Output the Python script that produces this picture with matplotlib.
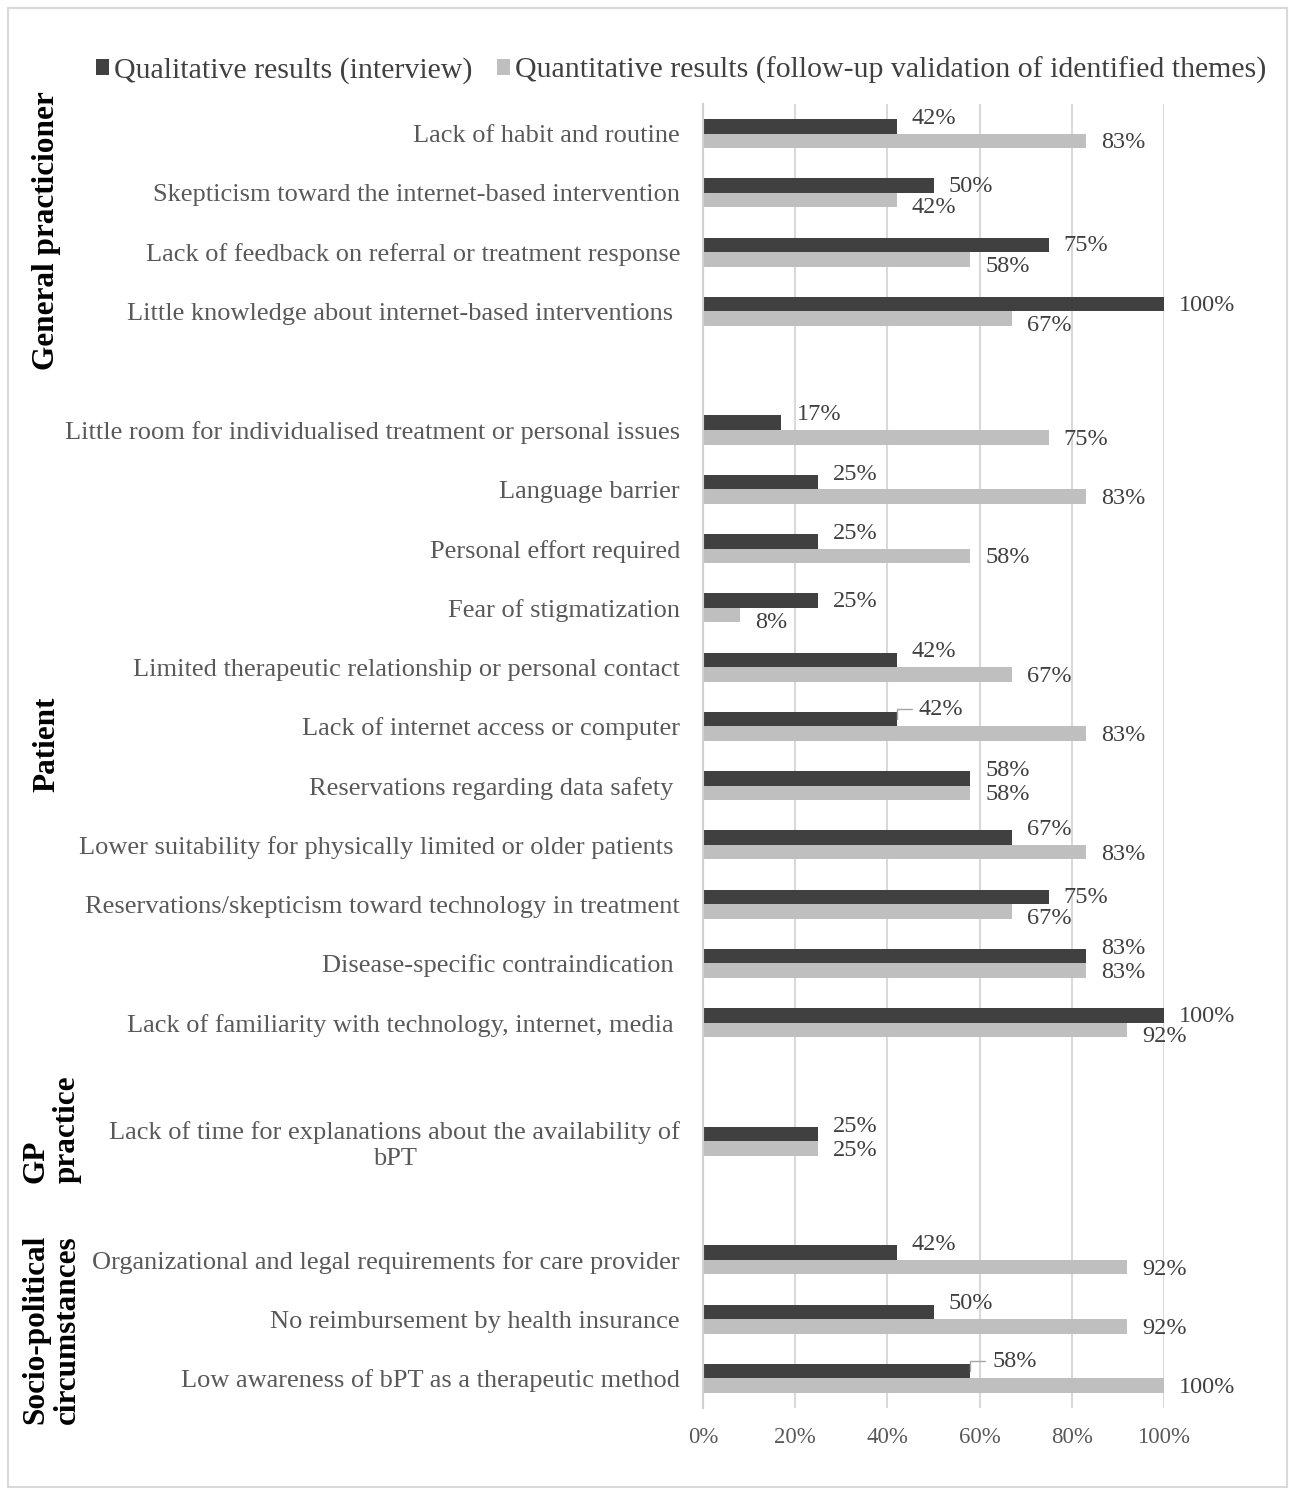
import numpy as np
import matplotlib.pyplot as plt
from matplotlib.patches import Patch, Rectangle
from matplotlib.transforms import blended_transform_factory

plt.rcParams['font.family'] = ['Liberation Serif', 'DejaVu Serif']

# barrier themes per group, values in percent
group_names = ["General practicioner", "Patient", "GP\npractice", "Socio-political\ncircumstances"]

gp_items = ["Lack of habit and routine",
            "Skepticism toward the internet-based intervention",
            "Lack of feedback on referral or treatment response",
            "Little knowledge about internet-based interventions "]
gp_qual = [42, 50, 75, 100]
gp_quant = [83, 42, 58, 67]

patient_items = ["Little room for individualised treatment or personal issues",
                 "Language barrier",
                 "Personal effort required",
                 "Fear of stigmatization",
                 "Limited therapeutic relationship or personal contact",
                 "Lack of internet access or computer",
                 "Reservations regarding data safety ",
                 "Lower suitability for physically limited or older patients ",
                 "Reservations/skepticism toward technology in treatment",
                 "Disease-specific contraindication ",
                 "Lack of familiarity with technology, internet, media "]
patient_qual = [17, 25, 25, 25, 42, 42, 58, 67, 75, 83, 100]
patient_quant = [75, 83, 58, 8, 67, 83, 58, 83, 67, 83, 92]

practice_items = ["Lack of time for explanations about the availability of\nbPT"]
practice_qual = [25]
practice_quant = [25]

socio_items = ["Organizational and legal requirements for care provider",
               "No reimbursement by health insurance",
               "Low awareness of bPT as a therapeutic method"]
socio_qual = [42, 50, 58]
socio_quant = [92, 92, 100]

series_names = ["Qualitative results (interview)",
                "Quantitative results (follow-up validation of identified themes)"]
x_ticks = [0, 20, 40, 60, 80, 100]

# labels that get a leader line (qualitative series)
leader_items = ["Lack of internet access or computer",
                "Low awareness of bPT as a therapeutic method"]

blocks = [(gp_items, gp_qual, gp_quant),
          (patient_items, patient_qual, patient_quant),
          (practice_items, practice_qual, practice_quant),
          (socio_items, socio_qual, socio_quant)]

# one empty slot between groups
pos, labels, qual, quant, group_mid = [], [], [], [], []
slot = 0
for items, q1, q2 in blocks:
    start = slot
    for name, a, b in zip(items, q1, q2):
        pos.append(slot)
        labels.append(name)
        qual.append(a)
        quant.append(b)
        slot += 1
    group_mid.append((start + slot - 1) / 2)
    slot += 1
n_slots = slot - 1
pos = np.array(pos, dtype=float)
group_nudge = [0.13, 0.31, -0.21, 0.18]

W, H = 1289, 1490
fig = plt.figure(figsize=(W / 100, H / 100), dpi=100)
ax = fig.add_axes([703 / W, 1 - 1408 / H, (1164 - 703) / W, (1408 - 104) / H])

dark = '#404040'
light = '#bfbfbf'
h = 0.245
ax.barh(pos - h / 2, qual, height=h, color=dark, zorder=3)
ax.barh(pos + h / 2, quant, height=h, color=light, zorder=3)

ax.set_xlim(0, 100)
ax.set_ylim(n_slots - 0.5, -0.5)
ax.set_xticks(x_ticks)
ax.set_xticklabels([f"{t}%" for t in x_ticks])
ax.set_yticks(pos)
ax.set_yticklabels(labels, multialignment='center')
ax.tick_params(axis='y', length=0, pad=16.5, labelsize=19, labelcolor='#595959')
ax.tick_params(axis='x', length=0, pad=14, labelsize=16.5, labelcolor='#595959')
ax.grid(axis='x', color='#d9d9d9', lw=1.5, zorder=0)
for s in ['top', 'right', 'bottom']:
    ax.spines[s].set_visible(False)
ax.spines['left'].set_color('#d0d0d0')
ax.spines['left'].set_linewidth(1.5)
ax.spines['left'].set_zorder(4)

px = 0.72  # points per pixel at 100 dpi
for i, y in enumerate(pos):
    if qual[i] > quant[i]:
        dd, dl = 1, 7
    else:
        dd, dl = -8, 2
    if labels[i] in leader_items:
        ax.annotate(f"{qual[i]}%", xy=(qual[i], y - h / 2), xytext=(22 * px, -(dd - 2) * px),
                    textcoords='offset points', va='center', ha='left', fontsize=17.5,
                    color=dark, annotation_clip=False,
                    arrowprops=dict(arrowstyle='-', color='#a6a6a6', lw=1, shrinkA=3, shrinkB=0,
                                    relpos=(0, 0.5),
                                    connectionstyle='angle,angleA=0,angleB=90,rad=0'))
    else:
        ax.annotate(f"{qual[i]}%", xy=(qual[i], y - h / 2), xytext=(15 * px, -dd * px),
                    textcoords='offset points', va='center', ha='left', fontsize=17.5,
                    color=dark, annotation_clip=False)
    ax.annotate(f"{quant[i]}%", xy=(quant[i], y + h / 2), xytext=(15 * px, -dl * px),
                textcoords='offset points', va='center', ha='left', fontsize=17.5,
                color=dark, annotation_clip=False)

# group names down the left side
tr = blended_transform_factory(fig.transFigure, ax.transData)
for name, mid, nd in zip(group_names, group_mid, group_nudge):
    xg = 47 / W if '\n' not in name else 51.5 / W
    ax.text(xg, mid + nd, name, transform=tr, rotation=90, ha='center', va='center',
            multialignment='left', fontsize=22.5, fontweight='bold', color='black',
            linespacing=1.1)

handles = [Patch(facecolor=dark), Patch(facecolor=light)]
fig.legend(handles, series_names, loc='center', bbox_to_anchor=(681 / W, 1 - 70 / H),
           ncol=2, frameon=False, fontsize=21.5, handlelength=0.45, handleheight=0.45,
           handletextpad=0.17, columnspacing=0.8, labelcolor='#404040', borderaxespad=0)

fig.add_artist(Rectangle((8 / W, 1 - 1487 / H), (1287 - 8) / W, (1487 - 8) / H,
                         transform=fig.transFigure, fill=False, edgecolor='#d9d9d9', lw=1.5))

fig.savefig('out.png', dpi=100, facecolor='white')
